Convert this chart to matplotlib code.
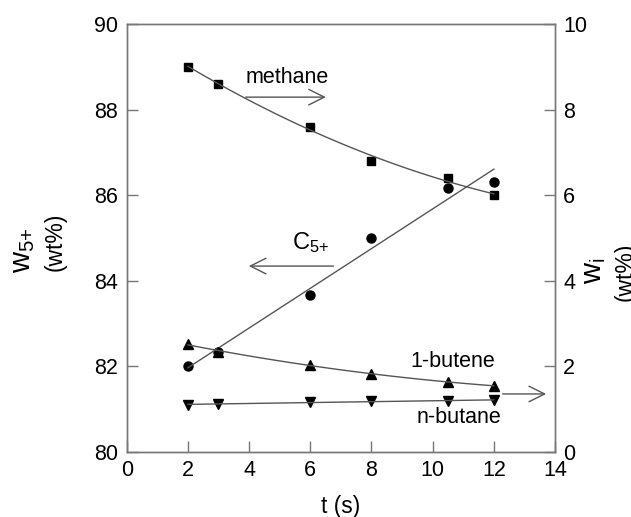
import numpy as np
import matplotlib
matplotlib.use("Agg")
import matplotlib.pyplot as plt

plt.rcParams['font.family'] = ['Liberation Sans', 'DejaVu Sans']
plt.rcParams['mathtext.fontset'] = 'custom'
plt.rcParams['mathtext.rm'] = 'Liberation Sans'
plt.rcParams['mathtext.it'] = 'Liberation Sans'

# tempo de residencia (s)
t = [2, 3, 6, 8, 10.5, 12]
# eixo esquerdo: C5+ (wt%)
c5 = [82.0, 82.33, 83.67, 85.0, 86.16, 86.31]
# eixo direito: w_i (wt%)
metano = [9.0, 8.6, 7.6, 6.8, 6.4, 6.0]
buteno = [2.52, 2.33, 2.03, 1.82, 1.63, 1.54]
butano = [1.09, 1.12, 1.16, 1.19, 1.19, 1.2]

cor_linha = '#555555'
cor_eixo = '#777777'

fig = plt.figure(figsize=(6.31, 5.17), dpi=100)
ax = fig.add_axes([0.2008, 0.1263, 0.6788, 0.8273])
ax2 = ax.twinx()

tt = np.linspace(2, 12, 100)

# C5+ com ajuste linear
ax.plot(t, c5, 'o', color='black', markersize=6.5)
ax.plot(tt, np.polyval(np.polyfit(t, c5, 1), tt), color=cor_linha, lw=1)

# metano, 1-buteno, n-butano no eixo direito
ax2.plot(t, metano, 's', color='black', markersize=6)
ax2.plot(tt, np.polyval(np.polyfit(t, metano, 2), tt), color=cor_linha, lw=1)
ax2.plot(t, buteno, '^', color='black', markersize=6.5)
ax2.plot(tt, np.polyval(np.polyfit(t, buteno, 2), tt), color=cor_linha, lw=1)
ax2.plot(t, butano, 'v', color='black', markersize=6.5)
ax2.plot(tt, np.polyval(np.polyfit(t, butano, 1), tt), color=cor_linha, lw=1)

ax.set_xlim(0, 14)
ax.set_ylim(80, 90)
ax2.set_ylim(0, 10)
ax.set_xticks(range(0, 15, 2))
ax.set_yticks(range(80, 91, 2))
ax2.set_yticks(range(0, 11, 2))

for a in (ax, ax2):
    for s in a.spines.values():
        s.set_color(cor_eixo)
        s.set_linewidth(1)
    a.tick_params(direction='in', length=8, width=1, color=cor_eixo,
                  labelsize=15.5, pad=6)
ax.tick_params(top=False, right=False)

ax.set_xlabel('t (s)', fontsize=16.5, labelpad=10)

# rotulos dos eixos y
fig.text(23 / 631, 1 - 250 / 517, r'w$_{5{+}}$', rotation=90, fontsize=21,
         ha='center', va='center')
fig.text(55 / 631, 1 - 242 / 517, '(wt%)', rotation=90, fontsize=16.5,
         ha='center', va='center')
fig.text(594 / 631, 1 - 271 / 517, r'w$_{\rm i}$', rotation=90, fontsize=21,
         ha='center', va='center')
fig.text(625 / 631, 1 - 272 / 517, '(wt%)', rotation=90, fontsize=16.5,
         ha='center', va='center')

# anotacoes com setas
seta = dict(arrowstyle='->', color=cor_linha, lw=1, mutation_scale=28)
ax.text(5.25, 88.75, 'methane', fontsize=15.5, ha='center', va='center')
ax.annotate('', xy=(6.6, 88.29), xytext=(3.8, 88.29), arrowprops=seta)
ax.text(6.0, 84.9, r'C$_{5{+}}$', fontsize=17, ha='center', va='center')
ax.annotate('', xy=(3.9, 84.34), xytext=(6.85, 84.34), arrowprops=seta)
ax.text(10.65, 82.12, '1-butene', fontsize=15.5, ha='center', va='center')
ax.text(10.85, 80.79, 'n-butane', fontsize=15.5, ha='center', va='center')
ax.annotate('', xy=(13.8, 81.35), xytext=(12.2, 81.35), arrowprops=seta)

fig.savefig('out.png', dpi=100)
